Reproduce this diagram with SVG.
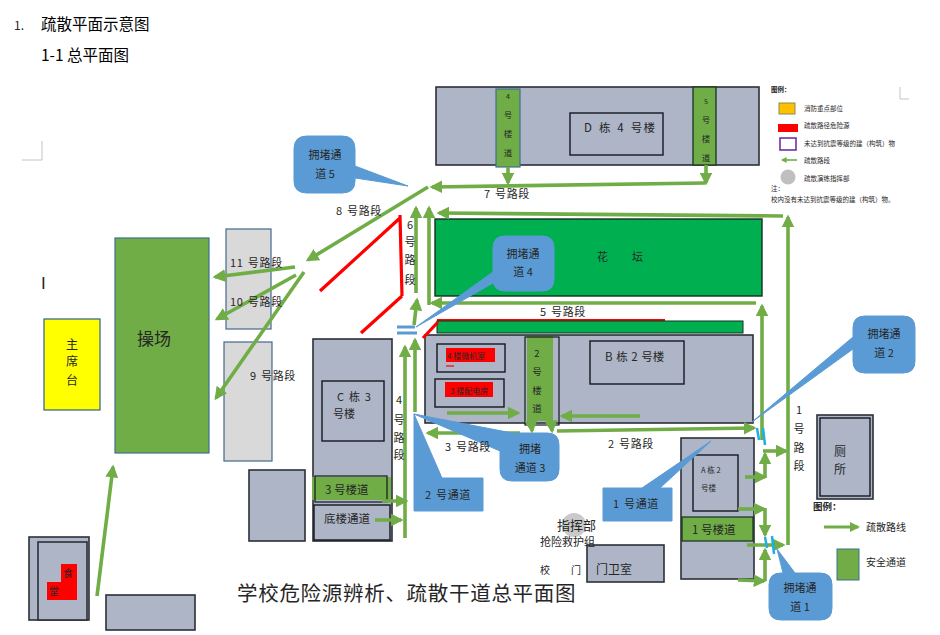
<svg xmlns="http://www.w3.org/2000/svg" width="940" height="635" viewBox="0 0 940 635">
<style>
text{font-family:"Noto Sans CJK SC","Liberation Sans",sans-serif;fill:#262626;font-size:11px}
.m{text-anchor:middle}
.b{fill:#adb5c7;stroke:#2b3038;stroke-width:1.6}
.i{fill:#adb5c7;stroke:#14181f;stroke-width:1.4}
.g{fill:#70ad47;stroke:#3f6f8f;stroke-width:1.2}
.gr{fill:#d9d9d9;stroke:#44688e;stroke-width:1.2}
.c{fill:#5b9bd5;stroke:#5b9bd5}
.a{stroke:#70ad47;stroke-width:3.6;fill:none;marker-end:url(#h)}
.r{stroke:#ff0000;stroke-width:3.2;fill:none}
.cy{stroke:#1cb0e6;stroke-width:2.5;fill:none}
.bl{stroke:#5b9bd5;stroke-width:3;fill:none}
.mk{stroke:#c4c4c4;stroke-width:1;fill:none}
.s{font-size:6.5px}
.w{letter-spacing:.7px;word-spacing:1px}
</style>
<defs>
<marker id="h" viewBox="0 0 10 10" refX="8" refY="5" markerWidth="3.6" markerHeight="3.6" orient="auto"><path d="M0,0 L10,5 L0,10z" fill="#70ad47"/></marker>
</defs>
<rect width="940" height="635" fill="#fff"/>
<g id="header">
<text x="14" y="30" style="font-size:12px">1.</text>
<text x="41" y="30" style="font-size:15.5px;fill:#000">疏散平面示意图</text>
<text x="41" y="61" style="font-size:15.5px;fill:#000">1-1 总平面图</text>
<path class="mk" d="M22,160H42V141M900,87V99H909"/>
<text x="41" y="289" style="font-size:17px;font-family:'Liberation Sans',sans-serif">I</text>
</g>
<g id="node-d">
<rect class="b" x="436" y="87" width="323" height="78"/>
<rect class="i" x="570" y="113" width="93" height="42"/>
<text x="584" y="132" class="w" style="font-size:11.5px;letter-spacing:1.2px;word-spacing:2px">D 栋 4 号楼</text>
<rect class="g" x="496" y="89" width="24" height="78"/>
<rect x="693" y="87" width="23" height="78" fill="#70ad47" stroke="#1f3b2a" stroke-width="1.4"/>
<text class="m" x="508" y="99" style="font-size:7px">4</text><text class="m" x="508" y="118" style="font-size:8.5px">号</text><text class="m" x="508" y="137" style="font-size:8.5px">楼</text><text class="m" x="508" y="156" style="font-size:8.5px">道</text>
<text class="m" x="706" y="104" style="font-size:7px">5</text><text class="m" x="706" y="123" style="font-size:8.5px">号</text><text class="m" x="706" y="142" style="font-size:8.5px">楼</text><text class="m" x="706" y="161" style="font-size:8.5px">道</text>
</g>
<g id="node-garden">
<rect x="435" y="219" width="327" height="77" fill="#00b050" stroke="#14301f" stroke-width="1.4"/>
<text x="597" y="261">花</text><text x="632" y="261">坛</text>
</g>
<g id="node-b">
<rect class="b" x="425" y="335" width="328" height="88"/>
<path class="r" style="stroke-width:2" d="M437,320H665"/>
<rect x="437" y="321" width="306" height="12" fill="#00b050" stroke="#14301f" stroke-width="1"/>
<rect class="i" x="590" y="341" width="94" height="43"/>
<text x="605" y="361" style="font-size:11.5px;word-spacing:1px">B 栋 2 号楼</text>
<rect class="i" x="437" y="344" width="68" height="28"/>
<rect class="i" x="435" y="379" width="69" height="28"/>
<rect x="446" y="348" width="49" height="14" fill="#ff0000"/>
<rect x="445" y="382" width="48" height="15" fill="#ff0000"/>
<path class="r" style="stroke-width:1.2" d="M446,366H454"/>
<text x="447" y="359" style="font-size:8px">4 楼微机室</text>
<text x="450" y="394" style="font-size:8px">3 楼配电房</text>
<rect x="527" y="336" width="26" height="85" fill="#70ad47"/>
<rect x="525" y="337" width="34" height="88" fill="none" stroke="#14181f" stroke-width="1.2"/>
<text class="m" x="537" y="357" style="font-size:9.5px">2</text><text class="m" x="537" y="375" style="font-size:9.5px">号</text><text class="m" x="537" y="394" style="font-size:9.5px">楼</text><text class="m" x="537" y="412" style="font-size:9.5px">道</text>
</g>
<g id="node-c">
<rect class="b" x="313" y="339" width="79" height="202"/>
<rect class="i" x="322" y="381" width="62" height="60"/>
<text x="337" y="401" class="w">C 栋 3</text><text x="333" y="418">号楼</text>
<rect x="312" y="477" width="79" height="23" fill="#70ad47"/>
<rect x="315" y="476" width="72" height="26" fill="none" stroke="#14181f" stroke-width="1.2"/>
<text x="325" y="494" style="font-size:11.5px">3 号楼道</text>
<rect class="i" x="314" y="505" width="76" height="35"/>
<text x="324" y="523" style="font-size:11.5px">底楼通道</text>
</g>
<g id="node-e"><rect class="b" x="249" y="470" width="56" height="71"/></g>
<g id="node-grey">
<rect class="gr" x="226" y="229" width="45" height="100"/>
<rect class="gr" x="224" y="342" width="48" height="119"/>
</g>
<g id="node-field">
<rect x="115" y="238" width="94" height="215" fill="#70ad47" stroke="#3f6f8f" stroke-width="1.2"/>
<text x="137" y="345" style="font-size:17px">操场</text>
</g>
<g id="node-stage">
<rect x="44" y="319" width="56" height="91" fill="#ffff00" stroke="#2f5f8f" stroke-width="1.2"/>
<text class="m" x="72" y="349" style="font-size:12px">主</text><text class="m" x="72" y="366" style="font-size:12px">席</text><text class="m" x="72" y="385" style="font-size:12px">台</text>
</g>
<g id="node-canteen">
<rect class="b" x="29" y="537" width="60" height="83"/>
<rect class="b" x="38" y="542" width="49" height="78"/>
<path d="M61,564H77V600H47V582H61z" fill="#ff0000"/>
<text class="m" x="68" y="577" style="font-size:10px">食</text>
<text class="m" x="54" y="595" style="font-size:10px">堂</text>
</g>
<g id="node-f"><rect class="b" x="106" y="595" width="89" height="35"/></g>
<g id="node-gate">
<rect class="b" x="587" y="545" width="77" height="37"/>
<text x="596" y="574" style="font-size:12px">门卫室</text>
<text x="540" y="574" style="font-size:10px">校</text><text x="571" y="574" style="font-size:10px">门</text>
<circle cx="574" cy="525" r="12" fill="#c9c9c9"/>
<text x="557" y="530" style="font-size:13px">指挥部</text>
<text x="540" y="546" style="font-size:11px">抢险救护组</text>
</g>
<g id="node-a">
<rect class="b" x="681" y="438" width="73" height="141"/>
<rect class="i" x="693" y="455" width="45" height="56"/>
<text x="701" y="473" style="font-size:7.5px">A 栋 2</text><text x="701" y="491" style="font-size:7.5px">号楼</text>
<rect x="682" y="517" width="71" height="24" fill="#70ad47" stroke="#14301f" stroke-width="1.2"/>
<text x="692" y="534" style="font-size:11.5px">1 号楼道</text>
</g>
<g id="node-wc">
<rect class="b" x="817" y="415" width="56" height="84"/>
<rect class="i" x="820" y="418" width="50" height="78"/>
<text class="m" x="840" y="456" style="font-size:12px">厕</text><text class="m" x="840" y="474" style="font-size:12px">所</text>
</g>
<g id="connectors">
<path class="a" d="M705,183L432,187"/>
<path class="a" d="M508,167V183"/>
<path class="a" d="M706,165V183"/>
<path class="a" d="M428,187L308,260"/>
<path class="a" d="M295,267L215,277"/>
<path class="a" d="M296,275L217,319"/>
<path class="a" d="M304,272L216,398"/>
<path class="a" d="M416,293V208"/>
<path class="a" d="M429,305V208"/>
<path class="a" d="M756,303H432"/>
<path class="a" d="M783,216L439,213"/>
<path class="a" d="M788,545V217"/>
<path class="a" d="M762,440V306"/>
<path class="a" d="M414,325L417,300"/>
<path class="a" d="M405,538V347"/>
<path class="a" d="M415,412V340"/>
<path class="a" d="M447,413H518"/>
<path class="a" d="M640,416H562"/>
<path class="a" d="M520,433H428"/>
<path class="a" d="M557,431L754,428"/>
<path class="a" d="M531,420L532,431"/>
<path class="a" d="M551,420L552,431"/>
<path class="a" d="M382,501H406"/>
<path class="a" d="M375,520H401"/>
<path class="a" d="M97,596L113,467"/>
<path class="a" d="M745,477H765"/>
<path class="a" d="M765,478V454"/>
<path class="a" d="M763,451H786"/>
<path class="a" d="M738,509H764"/>
<path class="a" d="M765,508V535"/>
<path class="a" d="M747,545H783"/>
<path class="a" d="M765,581V550"/>
<path class="a" d="M738,580L764,581"/>
<path class="r" d="M320,291L400,218M400,215L402,296M402,296L361,333M423,338L438,322"/>
<path class="bl" d="M397,327H415M397,333H417"/>
<path class="cy" d="M757,428L759,440M763,428L765,445M765,537L767,548M772,536L774,554"/>
</g>
<g id="callout-5">
<path class="c" d="M307,136H342Q355,136 355,149V166L408,186L355,178V181Q355,193 342,193H307Q294,193 294,181V149Q294,136 307,136z"/>
<text class="m" x="325" y="159">拥堵通</text><text class="m" x="325" y="178">道 5</text>
</g>
<g id="callout-4">
<path class="c" d="M505,236H542Q554,236 554,248V279Q554,291 542,291H505Q493,291 493,279V283L416,327L493,272V248Q493,236 505,236z"/>
<text class="m" x="523" y="258">拥堵通</text><text class="m" x="523" y="276">道 4</text>
</g>
<g id="callout-2">
<path class="c" d="M865,316H903Q915,316 915,328V361Q915,373 903,373H865Q853,373 853,361V349L752,422L853,337V328Q853,316 865,316z"/>
<text class="m" x="884" y="338">拥堵通</text><text class="m" x="884" y="357">道 2</text>
</g>
<g id="callout-3">
<path class="c" d="M414,414L512,433H547Q559,433 559,445V469Q559,481 547,481H512Q500,481 500,469V451z"/>
<text class="m" x="530" y="453">拥堵</text><text class="m" x="530" y="472">通道 3</text>
</g>
<g id="callout-1">
<path class="c" d="M777,549L795,573H820Q832,573 832,585V608Q832,620 820,620H781Q769,620 769,608V585Q769,573 781,573H783z"/>
<text class="m" x="800" y="592">拥堵通</text><text class="m" x="800" y="611">道 1</text>
</g>
<g id="label-2">
<path class="c" d="M414,414L442,478H483V511H414z"/>
<text x="425" y="499" class="w">2 号通道</text>
</g>
<g id="label-1">
<path class="c" d="M711,441L660,488H672V521H603V488H642z"/>
<text x="613" y="508" class="w">1 号通道</text>
</g>
<g id="labels">
<text x="336" y="215" class="w">8 号路段</text>
<text x="230" y="267" class="w">11 号路段</text>
<text x="230" y="306" class="w">10 号路段</text>
<text x="250" y="380" class="w">9 号路段</text>
<text x="540" y="316" class="w">5 号路段</text>
<text x="484" y="198" class="w">7 号路段</text>
<text x="445" y="451" class="w">3 号路段</text>
<text x="608" y="448" class="w">2 号路段</text>
<text class="m" x="410" y="229">6</text><text class="m" x="410" y="246">号</text><text class="m" x="410" y="264">路</text><text class="m" x="410" y="284">段</text>
<text class="m" x="399" y="404">4</text><text class="m" x="399" y="424">号</text><text class="m" x="399" y="442">路</text><text class="m" x="399" y="459">段</text>
<text class="m" x="799" y="414">1</text><text class="m" x="799" y="433">号</text><text class="m" x="799" y="452">路</text><text class="m" x="799" y="470">段</text>
<text x="237" y="601" style="font-size:20.5px;letter-spacing:.7px">学校危险源辨析、疏散干道总平面图</text>
</g>
<g id="legend-1">
<text x="771" y="92" class="s" style="font-weight:700">图例：</text>
<rect x="779" y="103" width="16" height="11" fill="#ffc000" stroke="#8a8a55"/>
<rect x="778" y="124" width="20" height="8" fill="#ff0000"/>
<rect x="780" y="138" width="16" height="12" fill="#fff" stroke="#7030a0" stroke-width="1.6"/>
<path class="a" style="stroke-width:1.6" d="M797,160H782"/>
<circle cx="788" cy="177" r="7.5" fill="#bfbfbf"/>
<text x="804" y="111" class="s">消防重点部位</text>
<text x="804" y="128" class="s">疏散路径危险源</text>
<text x="804" y="146" class="s">未达到抗震等级的建（构筑）物</text>
<text x="804" y="163" class="s">疏散路段</text>
<text x="804" y="181" class="s">疏散演练指挥部</text>
<text x="771" y="191" class="s">注：</text>
<text x="771" y="202" class="s">校内没有未达到抗震等级的建（构筑）物。</text>
</g>
<g id="legend-2">
<text x="813" y="510" style="font-size:9.5px;font-weight:700">图例：</text>
<path class="a" style="stroke-width:2.8" d="M824,527H858"/>
<text x="866" y="531" style="font-size:10px">疏散路线</text>
<rect x="837" y="549" width="22" height="31" fill="#70ad47" stroke="#3f6f8f"/>
<text x="866" y="566" style="font-size:10px">安全通道</text>
</g>
</svg>
